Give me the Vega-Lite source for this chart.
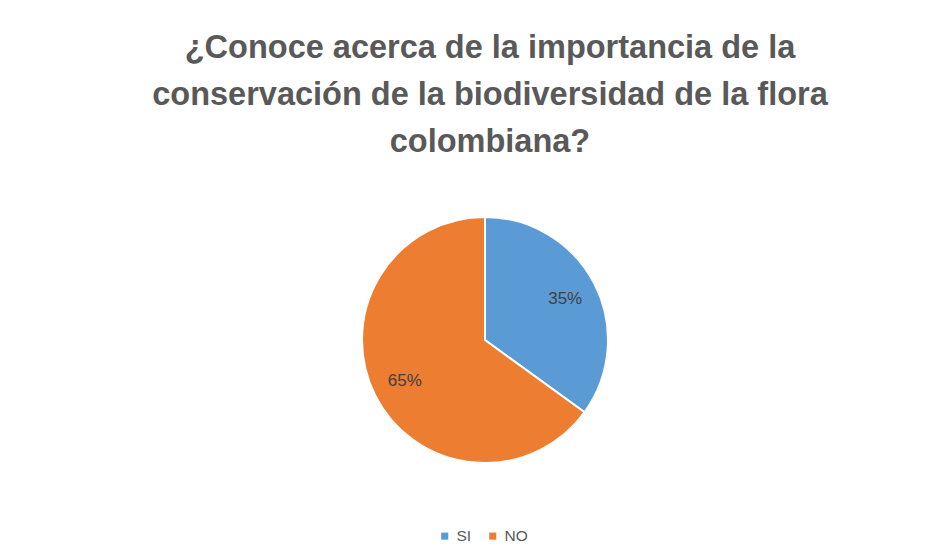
{
  "$schema": "https://vega.github.io/schema/vega-lite/v6.json",
  "width": 246,
  "height": 246,
  "autosize": "none",
  "padding": {"left": 362, "top": 217, "right": 344, "bottom": 94},
  "background": "white",
  "config": {"view": {"stroke": null}},
  "title": {
    "text": ["¿Conoce acerca de la importancia de la", "conservación de la biodiversidad de la flora", "colombiana?"],
    "anchor": "middle",
    "fontSize": 32.5,
    "font": "Liberation Sans",
    "fontWeight": "bold",
    "color": "#595959",
    "lineHeight": 47,
    "offset": 55,
    "dx": 5
  },
  "data": {
    "values": [
      {"respuesta": "SI", "porcentaje": 35, "orden": 1, "etiqueta": "35%"},
      {"respuesta": "NO", "porcentaje": 65, "orden": 2, "etiqueta": "65%"}
    ]
  },
  "encoding": {
    "theta": {"field": "porcentaje", "type": "quantitative", "stack": true},
    "order": {"field": "orden", "type": "quantitative"}
  },
  "layer": [
    {
      "mark": {"type": "arc", "radius": 123, "stroke": "white", "strokeWidth": 2},
      "encoding": {
        "color": {
          "field": "respuesta",
          "type": "nominal",
          "scale": {"domain": ["SI", "NO"], "range": ["#5B9BD5", "#ED7D31"]},
          "legend": {
            "title": null,
            "orient": "none",
            "direction": "horizontal",
            "legendX": 75,
            "legendY": 311,
            "padding": 0,
            "symbolType": "square",
            "symbolSize": 50,
            "symbolStrokeWidth": 0,
            "labelFont": "Liberation Sans",
            "labelFontSize": 15.5,
            "labelColor": "#595959",
            "columnPadding": 13,
            "labelOffset": 4
          }
        }
      }
    },
    {
      "mark": {"type": "text", "radius": 90, "fontSize": 17, "font": "Liberation Sans", "color": "#404040"},
      "encoding": {"text": {"field": "etiqueta", "type": "nominal"}}
    }
  ]
}
